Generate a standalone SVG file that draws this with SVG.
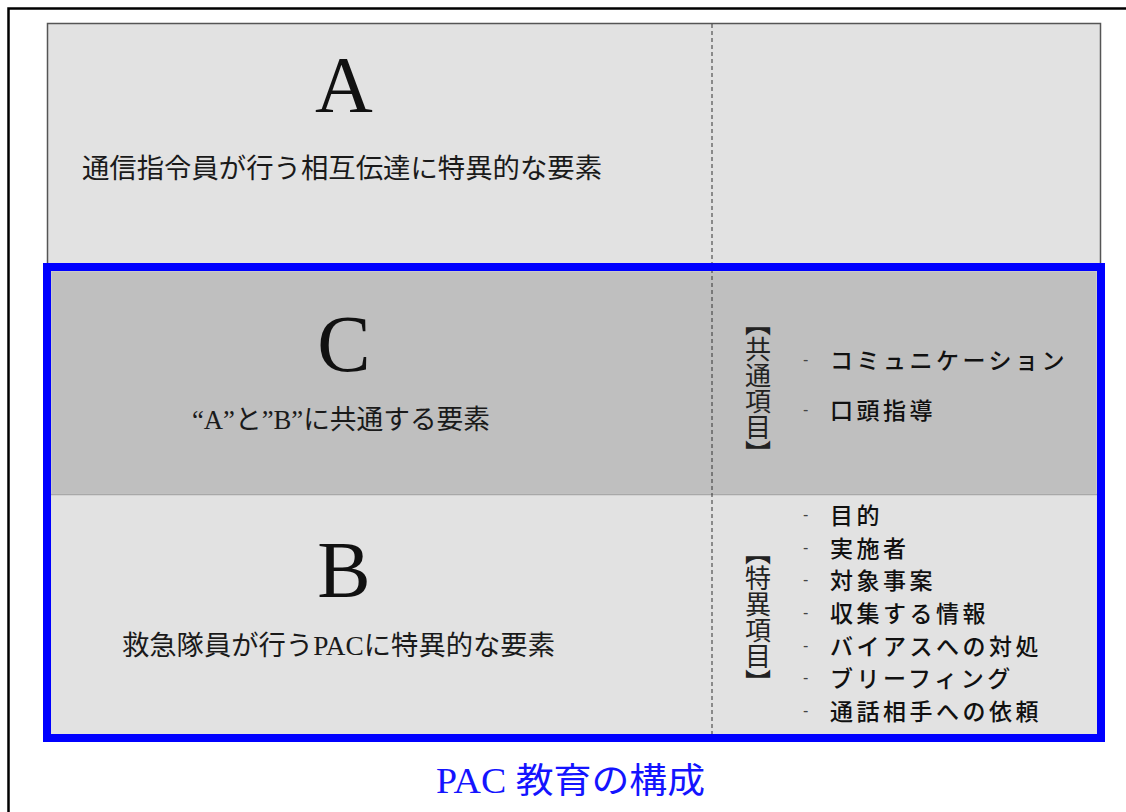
<svg xmlns="http://www.w3.org/2000/svg" width="1126" height="812" viewBox="0 0 1126 812">
<style>
.big{font-family:"Liberation Serif","Noto Sans CJK JP",serif;font-size:80px;fill:#111;text-anchor:middle}
.desc{font-family:"Liberation Serif","Noto Sans CJK JP",serif;font-size:27px;fill:#1a1a1a}
.vlab{font-family:"Noto Sans CJK JP",sans-serif;font-size:26px;fill:#222;writing-mode:vertical-rl}
.item{font-family:"Noto Sans CJK JP",sans-serif;font-size:23px;fill:#111;font-weight:500;letter-spacing:3.5px}
.dash{font-family:"Liberation Sans",sans-serif;font-size:16px;fill:#444}
.title{font-family:"Liberation Serif","Noto Sans CJK JP",serif;font-size:35px;fill:#1414ff}
</style>
<rect x="0" y="0" width="1126" height="812" fill="#ffffff"/>
<g id="frame">
<path d="M8.5 812 V8.5 H1126" fill="none" stroke="#000" stroke-width="2.5"/>
</g>
<g id="node-A">
<rect x="47.5" y="23.5" width="1053" height="250" fill="#e2e2e2" stroke="#555" stroke-width="1.5"/>
<text class="big" x="344" y="112">A</text>
<text class="desc" x="82" y="178" textLength="520" lengthAdjust="spacingAndGlyphs">通信指令員が行う相互伝達に特異的な要素</text>
</g>
<g id="node-C">
<rect x="51" y="271" width="1046" height="223" fill="#bfbfbf" stroke="#d4d4d4" stroke-width="1"/>
<text class="big" x="344" y="371">C</text>
<text class="desc" x="192" y="429" textLength="298" lengthAdjust="spacingAndGlyphs">“A”と”B”に共通する要素</text>
<text class="vlab" x="758" y="310">【共通項目】</text>
<text class="dash" x="803" y="365">-</text>
<text class="item" x="830" y="369">コミュニケーション</text>
<text class="dash" x="803" y="415">-</text>
<text class="item" x="830" y="419">口頭指導</text>
</g>
<g id="node-B">
<rect x="51" y="494.5" width="1046" height="240" fill="#e2e2e2"/>
<line x1="51" y1="494.5" x2="1097" y2="494.5" stroke="#a8a8a8" stroke-width="1.5"/>
<text class="big" x="344" y="597">B</text>
<text class="desc" x="122" y="655" textLength="433" lengthAdjust="spacingAndGlyphs">救急隊員が行うPACに特異的な要素</text>
<text class="vlab" x="758" y="539">【特異項目】</text>
<text class="dash" x="803" y="520">-</text>
<text class="item" x="830" y="524">目的</text>
<text class="dash" x="803" y="553">-</text>
<text class="item" x="830" y="557">実施者</text>
<text class="dash" x="803" y="585">-</text>
<text class="item" x="830" y="589">対象事案</text>
<text class="dash" x="803" y="618">-</text>
<text class="item" x="830" y="622">収集する情報</text>
<text class="dash" x="803" y="651">-</text>
<text class="item" x="830" y="655">バイアスへの対処</text>
<text class="dash" x="803" y="683">-</text>
<text class="item" x="830" y="687">ブリーフィング</text>
<text class="dash" x="803" y="716">-</text>
<text class="item" x="830" y="720">通話相手への依頼</text>
</g>
<g id="connectors">
<line x1="712" y1="24" x2="712" y2="738" stroke="#333" stroke-width="1" stroke-dasharray="4 3"/>
</g>
<g id="highlight">
<rect x="47" y="267" width="1054" height="471" fill="none" stroke="#0000ff" stroke-width="8"/>
</g>
<g id="caption">
<text class="title" x="436" y="793" textLength="269" lengthAdjust="spacingAndGlyphs">PAC 教育の構成</text>
</g>
</svg>
